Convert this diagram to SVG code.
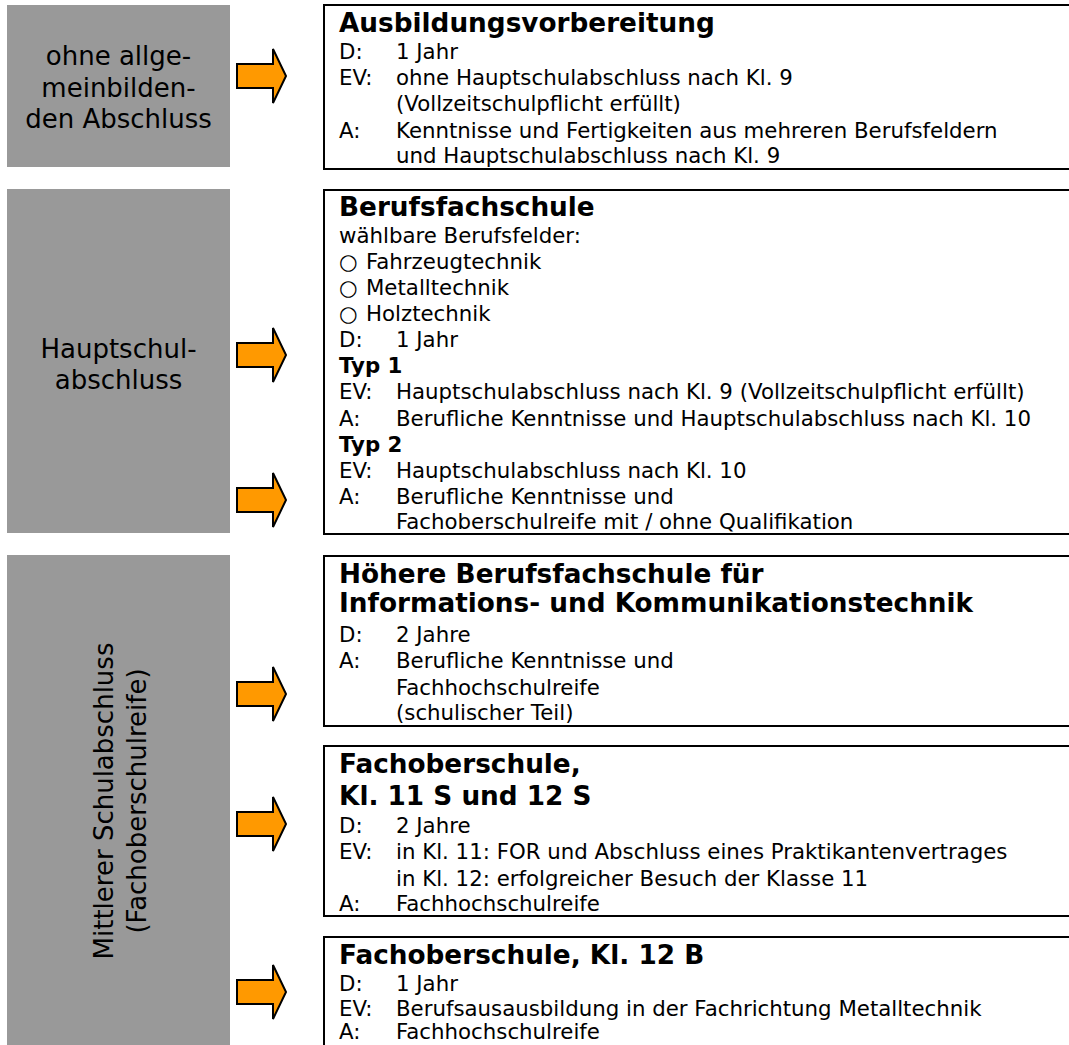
<svg xmlns="http://www.w3.org/2000/svg" xmlns:xlink="http://www.w3.org/1999/xlink" width="1069" height="1045" viewBox="0 0 1069 1045">
<style>
.grey{fill:#999999;stroke:none}
.box{fill:#ffffff;stroke:#000000;stroke-width:2}
.lbl{font-family:"DejaVu Sans","Liberation Sans",sans-serif;font-size:26px;fill:#000;text-anchor:middle}
.t{font-family:"DejaVu Sans","Liberation Sans",sans-serif;font-size:26.3px;font-weight:bold;fill:#000}
.b{font-family:"DejaVu Sans","Liberation Sans",sans-serif;font-size:21.3px;fill:#000}
.bb{font-weight:bold}
.arrow{fill:#FF9900;stroke:#000;stroke-width:2;stroke-linejoin:miter}
</style>
<defs>
<path id="arr" d="M237,-12 H273 V-27 L286,0 L273,27 V12 H237 Z"/>
</defs>
<rect width="1069" height="1045" fill="#ffffff"/>

<g id="src-ohne">
<rect class="grey" x="7" y="5" width="223" height="162"/>
<text class="lbl" x="118.5" y="65">ohne allge-</text>
<text class="lbl" x="118.5" y="97">meinbilden-</text>
<text class="lbl" x="118.5" y="128">den Abschluss</text>
</g>

<g id="src-haupt">
<rect class="grey" x="7" y="189" width="223" height="344"/>
<text class="lbl" x="118.5" y="358">Hauptschul-</text>
<text class="lbl" x="118.5" y="389">abschluss</text>
</g>

<g id="src-mittlerer">
<rect class="grey" x="7" y="555" width="223" height="490"/>
<text class="lbl" transform="translate(113,801) rotate(-90)">Mittlerer Schulabschluss</text>
<text class="lbl" transform="translate(146,801) rotate(-90)">(Fachoberschulreife)</text>
</g>

<g id="connectors">
<use xlink:href="#arr" class="arrow" transform="translate(0,76)"/>
<use xlink:href="#arr" class="arrow" transform="translate(0,355)"/>
<use xlink:href="#arr" class="arrow" transform="translate(0,500)"/>
<use xlink:href="#arr" class="arrow" transform="translate(0,694)"/>
<use xlink:href="#arr" class="arrow" transform="translate(0,824)"/>
<use xlink:href="#arr" class="arrow" transform="translate(0,992)"/>
</g>

<g id="box-ausbildungsvorbereitung">
<rect class="box" x="324" y="5" width="800" height="164"/>
<text class="t" x="339" y="32">Ausbildungsvorbereitung</text>
<text class="b" x="339" y="59">D:</text><text class="b" x="396" y="59">1 Jahr</text>
<text class="b" x="339" y="85">EV:</text><text class="b" x="396" y="85">ohne Hauptschulabschluss nach Kl. 9</text>
<text class="b" x="396" y="111">(Vollzeitschulpflicht erfüllt)</text>
<text class="b" x="339" y="138">A:</text><text class="b" x="396" y="138">Kenntnisse und Fertigkeiten aus mehreren Berufsfeldern</text>
<text class="b" x="396" y="163">und Hauptschulabschluss nach Kl. 9</text>
</g>

<g id="box-berufsfachschule">
<rect class="box" x="324" y="190" width="800" height="344"/>
<text class="t" x="339" y="216">Berufsfachschule</text>
<text class="b" x="339" y="243">wählbare Berufsfelder:</text>
<text class="b" x="339" y="269">○</text><text class="b" x="366" y="269">Fahrzeugtechnik</text>
<text class="b" x="339" y="295">○</text><text class="b" x="366" y="295">Metalltechnik</text>
<text class="b" x="339" y="321">○</text><text class="b" x="366" y="321">Holztechnik</text>
<text class="b" x="339" y="347">D:</text><text class="b" x="396" y="347">1 Jahr</text>
<text class="b bb" x="339" y="373">Typ 1</text>
<text class="b" x="339" y="399">EV:</text><text class="b" x="396" y="399">Hauptschulabschluss nach Kl. 9 (Vollzeitschulpflicht erfüllt)</text>
<text class="b" x="339" y="426">A:</text><text class="b" x="396" y="426">Berufliche Kenntnisse und Hauptschulabschluss nach Kl. 10</text>
<text class="b bb" x="339" y="452">Typ 2</text>
<text class="b" x="339" y="478">EV:</text><text class="b" x="396" y="478">Hauptschulabschluss nach Kl. 10</text>
<text class="b" x="339" y="504">A:</text><text class="b" x="396" y="504">Berufliche Kenntnisse und</text>
<text class="b" x="396" y="529">Fachoberschulreife mit / ohne Qualifikation</text>
</g>

<g id="box-hoehere-bfs">
<rect class="box" x="324" y="556" width="800" height="170"/>
<text class="t" x="339" y="583">Höhere Berufsfachschule für</text>
<text class="t" x="339" y="612">Informations- und Kommunikationstechnik</text>
<text class="b" x="339" y="642">D:</text><text class="b" x="396" y="642">2 Jahre</text>
<text class="b" x="339" y="668">A:</text><text class="b" x="396" y="668">Berufliche Kenntnisse und</text>
<text class="b" x="396" y="695">Fachhochschulreife</text>
<text class="b" x="396" y="720">(schulischer Teil)</text>
</g>

<g id="box-fos-11s-12s">
<rect class="box" x="324" y="746" width="800" height="170"/>
<text class="t" x="339" y="773">Fachoberschule,</text>
<text class="t" x="339" y="805">Kl. 11 S und 12 S</text>
<text class="b" x="339" y="833">D:</text><text class="b" x="396" y="833">2 Jahre</text>
<text class="b" x="339" y="859">EV:</text><text class="b" x="396" y="859">in Kl. 11: FOR und Abschluss eines Praktikantenvertrages</text>
<text class="b" x="396" y="886">in Kl. 12: erfolgreicher Besuch der Klasse 11</text>
<text class="b" x="339" y="911">A:</text><text class="b" x="396" y="911">Fachhochschulreife</text>
</g>

<g id="box-fos-12b">
<rect class="box" x="324" y="937" width="800" height="130"/>
<text class="t" x="339" y="964">Fachoberschule, Kl. 12 B</text>
<text class="b" x="339" y="991">D:</text><text class="b" x="396" y="991">1 Jahr</text>
<text class="b" x="339" y="1016">EV:</text><text class="b" x="396" y="1016">Berufsausausbildung in der Fachrichtung Metalltechnik</text>
<text class="b" x="339" y="1039">A:</text><text class="b" x="396" y="1039">Fachhochschulreife</text>
</g>
</svg>
